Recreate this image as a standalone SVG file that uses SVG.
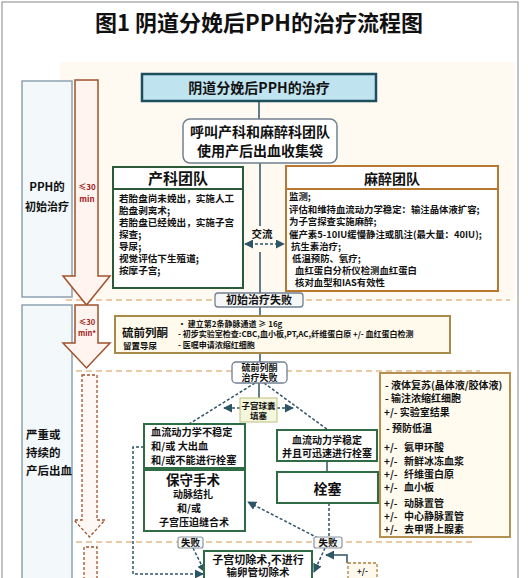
<svg xmlns="http://www.w3.org/2000/svg" width="528" height="578" viewBox="0 0 528 578">
<defs>
<style>
text{font-family:"Noto Sans CJK SC","Noto Sans",sans-serif;font-weight:bold;fill:#111}
.c{text-anchor:middle}
.side{fill:#f3f8fb;stroke:#8da2b0;stroke-width:1.5}
.bigarrow{fill:#fff4ef;stroke:#a0522d;stroke-width:1.5}
.darrow{fill:#fff8f4;stroke:#a0522d;stroke-width:1.3;stroke-dasharray:3 2}
.red{fill:#a02020;font-size:8px}
.sep{stroke:#e3b98a;stroke-width:1.5;stroke-dasharray:6 4;fill:none}
.green{fill:#fff;stroke:#2f6b45;stroke-width:2}
.conn{stroke:#2c5566;stroke-width:1.5;fill:none}
.dconn{stroke:#2c5566;stroke-width:1.5;fill:none;stroke-dasharray:3 2}
.lbl{fill:#f7f8f8;stroke:#8a96a0;stroke-width:1.2}
</style>
<marker id="ah" viewBox="0 0 10 10" refX="9" refY="5" markerWidth="6" markerHeight="6" orient="auto-start-reverse">
<path d="M0,0 L10,5 L0,10 Z" fill="#2c5566"/>
</marker>
</defs>
<rect x="0" y="0" width="528" height="578" fill="#fff"/>
<rect x="2" y="2" width="516" height="590" fill="none" stroke="#9a9a9a" stroke-width="1.2"/>
<rect x="60" y="62" width="455" height="238" fill="#fffaf1"/>
<text x="259" y="31" class="c" style="font-size:22px">图1 阴道分娩后PPH的治疗流程图</text>

<!-- separators -->
<g id="separators">
<line class="sep" x1="66" y1="300" x2="510" y2="300"/>
<line class="sep" x1="66" y1="371" x2="480" y2="371"/>
<line class="sep" x1="66" y1="542" x2="475" y2="542"/>
</g>

<!-- left sidebar -->
<g id="phase1">
<rect class="side" x="22" y="81" width="50" height="216"/>
<text x="47" y="191" class="c" style="font-size:11.5px">PPH的</text>
<text x="47" y="211" class="c" style="font-size:11px">初始治疗</text>
</g>
<g id="arrow1">
<path class="bigarrow" d="M75,80 H98 V276 H110 L86.5,305 L63,276 H75 Z"/>
<text x="87" y="190" class="c red">≤30</text>
<text x="87" y="202" class="c red">min</text>
</g>
<g id="phase2">
<rect class="side" x="22" y="305" width="50" height="285"/>
<text x="26" y="439" style="font-size:11.5px">严重或</text>
<text x="26" y="457" style="font-size:11.5px">持续的</text>
<text x="26" y="475" style="font-size:11.5px">产后出血</text>
</g>
<g id="arrow2">
<path class="bigarrow" d="M75,305 H98 V343 H110 L86.5,368 L63,343 H75 Z"/>
<text x="87" y="325" class="c red" style="font-size:7.5px">≤30</text>
<text x="87" y="336" class="c red" style="font-size:7.5px">min*</text>
</g>
<g id="arrow3">
<path class="darrow" d="M82,375 H97 V520 H105 L89.5,537 L74,520 H82 Z"/>
</g>
<g id="arrow4">
<path class="darrow" d="M84,590 V547 H97 V590"/>
</g>

<!-- connectors -->
<g id="connectors">
<line class="conn" x1="259" y1="101" x2="259" y2="119"/>
<line class="conn" x1="260" y1="163" x2="260" y2="226"/>
<line class="conn" x1="260" y1="252" x2="260" y2="293"/>
<line class="dconn" x1="245" y1="244" x2="284" y2="244" marker-start="url(#ah)" marker-end="url(#ah)"/>
<line class="conn" x1="260" y1="306" x2="260" y2="316"/>
<line class="conn" x1="260" y1="353" x2="260" y2="362"/>
<line class="conn" x1="259" y1="383" x2="259" y2="398"/>
<line class="dconn" x1="255" y1="383" x2="189" y2="424"/>
<line class="dconn" x1="264" y1="383" x2="328" y2="430"/>
<line class="dconn" x1="240" y1="408" x2="224" y2="408" marker-end="url(#ah)"/>
<line class="dconn" x1="277" y1="408" x2="293" y2="408" marker-end="url(#ah)"/>
<line class="conn" x1="327" y1="461" x2="327" y2="472"/>
<line class="dconn" x1="329" y1="503" x2="329" y2="537"/>
<line class="dconn" x1="318" y1="538" x2="248" y2="502" marker-end="url(#ah)"/>
<line class="dconn" x1="325" y1="548" x2="314" y2="572" marker-end="url(#ah)"/>
<line class="dconn" x1="193" y1="548" x2="205" y2="572" marker-end="url(#ah)"/>
<path class="dconn" d="M144,447 H133 V574 H203" marker-end="url(#ah)"/>
<path class="conn" stroke-width="1" d="M347,563 V555 H326" marker-end="url(#ah)"/>
</g>

<!-- nodes -->
<g id="n_top">
<rect x="142" y="74" width="234" height="27" fill="#bfe3ef" stroke="#1e4f5e" stroke-width="2.5"/>
<text x="259" y="93" class="c" style="font-size:14px">阴道分娩后PPH的治疗</text>
</g>
<g id="n_call">
<rect x="183" y="119" width="154" height="44" rx="7" fill="#fff" stroke="#708090" stroke-width="1.5"/>
<text x="260" y="137" class="c" style="font-size:14px">呼叫产科和麻醉科团队</text>
<text x="260" y="156" class="c" style="font-size:14px">使用产后出血收集袋</text>
</g>
<g id="n_obst">
<rect x="113" y="167" width="130" height="121" fill="#fff" stroke="#2a5a3a" stroke-width="2"/>
<line x1="113" y1="189" x2="243" y2="189" stroke="#2a5a3a" stroke-width="2"/>
<text x="178" y="184" class="c" style="font-size:15px">产科团队</text>
<g style="font-size:9.6px">
<text x="119" y="202">若胎盘尚未娩出，实施人工</text>
<text x="119" y="214">胎盘剥离术;</text>
<text x="119" y="226">若胎盘已经娩出，实施子宫</text>
<text x="119" y="238">探查;</text>
<text x="119" y="250">导尿;</text>
<text x="119" y="262">视觉评估下生殖道;</text>
<text x="119" y="274">按摩子宫;</text>
</g>
</g>
<g id="n_comm">
<text x="262" y="238" class="c" style="font-size:10.5px">交流</text>
</g>
<g id="n_anes">
<rect x="286" y="166" width="212" height="125" fill="#fff" stroke="#b8782f" stroke-width="2"/>
<line x1="286" y1="189" x2="498" y2="189" stroke="#b8782f" stroke-width="2"/>
<text x="392" y="184" class="c" style="font-size:14px">麻醉团队</text>
<g style="font-size:9.4px">
<text x="289" y="200">监测;</text>
<text x="289" y="213">评估和维持血流动力学稳定：输注晶体液扩容;</text>
<text x="289" y="225">为子宫探查实施麻醉;</text>
<text x="289" y="238">催产素5-10IU缓慢静注或肌注(最大量：40IU);</text>
<text x="291" y="250">抗生素治疗;</text>
<text x="292" y="262">低温预防、氧疗;</text>
<text x="295" y="274">血红蛋白分析仪检测血红蛋白</text>
<text x="295" y="286">核对血型和IAS有效性</text>
</g>
</g>
<g id="n_fail1">
<rect x="215" y="293" width="88" height="14" rx="3" fill="#f6f7f7" stroke="#708090" stroke-width="1.3"/>
<text x="259" y="304" class="c" style="font-size:11px">初始治疗失败</text>
</g>
<g id="n_sulpro">
<rect x="115" y="316" width="335" height="37" fill="#fffaeb" stroke="#a88a4a" stroke-width="2"/>
<text x="122" y="337" style="font-size:11.5px">硫前列酮</text>
<text x="123" y="349" style="font-size:8.5px">留置导尿</text>
<g style="font-size:8px">
<text x="178" y="327">• 建立第2条静脉通道 ≥ 16g</text>
<text x="178" y="337">- 初步实验室检查:CBC,血小板,PT,AC,纤维蛋白原 +/- 血红蛋白检测</text>
<text x="178" y="348">- 医嘱申请浓缩红细胞</text>
</g>
</g>
<g id="n_fail2">
<rect x="232" y="362" width="55" height="21" rx="4" fill="#fff" stroke="#708090" stroke-width="1.3"/>
<text x="259.5" y="371" class="c" style="font-size:9px">硫前列酮</text>
<text x="259.5" y="381" class="c" style="font-size:9px">治疗失败</text>
</g>
<g id="n_balloon">
<rect x="240" y="398" width="37" height="24" fill="#f5f7dc" stroke="#c8c890" stroke-width="1.2"/>
<text x="258.5" y="409" class="c" style="font-size:8.5px">子宫球囊</text>
<text x="258.5" y="419" class="c" style="font-size:8.5px">填塞</text>
</g>
<g id="n_unstable">
<rect class="green" x="144" y="424" width="101" height="44"/>
<g style="font-size:10.2px">
<text x="151" y="436">血流动力学不稳定</text>
<text x="151" y="450">和/或 大出血</text>
<text x="151" y="464">和/或不能进行栓塞</text>
</g>
</g>
<g id="n_stable">
<rect class="green" x="277" y="430" width="100" height="31"/>
<text x="327" y="444" class="c" style="font-size:10px">血流动力学稳定</text>
<text x="327" y="457" class="c" style="font-size:10px">并且可迅速进行栓塞</text>
</g>
<g id="n_conserv">
<rect class="green" x="144" y="470" width="101" height="61"/>
<text x="193" y="485" class="c" style="font-size:13.5px">保守手术</text>
<text x="193" y="498" class="c" style="font-size:10px">动脉结扎</text>
<text x="189" y="512" class="c" style="font-size:10px">和/或</text>
<text x="194" y="526" class="c" style="font-size:10px">子宫压迫缝合术</text>
</g>
<g id="n_embol">
<rect class="green" x="277" y="472" width="101" height="31"/>
<text x="327.5" y="494" class="c" style="font-size:14px">栓塞</text>
</g>
<g id="n_failL">
<rect class="lbl" x="178" y="537" width="25" height="11" rx="2"/>
<text x="190.5" y="546" class="c" style="font-size:9.5px">失败</text>
</g>
<g id="n_failR">
<rect class="lbl" x="314" y="537" width="28" height="11" rx="2"/>
<text x="328" y="546" class="c" style="font-size:9.5px">失败</text>
</g>
<g id="n_hyst">
<rect class="green" x="204" y="551" width="108" height="40"/>
<text x="258" y="564" class="c" style="font-size:11px">子宫切除术,不进行</text>
<text x="258" y="576" class="c" style="font-size:10.5px">输卵管切除术</text>
</g>
<g id="n_support">
<rect x="380" y="373" width="130" height="164" fill="#fffbef" stroke="#b59050" stroke-width="2"/>
<g style="font-size:10px">
<text x="385" y="389">- 液体复苏(晶体液/胶体液)</text>
<text x="385" y="402">- 输注浓缩红细胞</text>
<text x="384" y="416">+/- 实验室结果</text>
<text x="386" y="432">- 预防低温</text>
<text x="384" y="451">+/-</text><text x="404" y="451">氨甲环酸</text>
<text x="384" y="465">+/-</text><text x="404" y="465">新鲜冰冻血浆</text>
<text x="384" y="478">+/-</text><text x="404" y="478">纤维蛋白原</text>
<text x="384" y="491">+/-</text><text x="404" y="491">血小板</text>
<text x="384" y="507">+/-</text><text x="404" y="507">动脉置管</text>
<text x="384" y="520">+/-</text><text x="404" y="520">中心静脉置管</text>
<text x="384" y="533">+/-</text><text x="404" y="533">去甲肾上腺素</text>
</g>
</g>
<g id="n_small">
<rect x="348" y="563" width="29" height="24" fill="#fff8ec" stroke="#b08040" stroke-width="1.3" stroke-dasharray="3 2"/>
<text x="362.5" y="574" class="c" style="font-size:8px">+/-</text>
</g>
</svg>
